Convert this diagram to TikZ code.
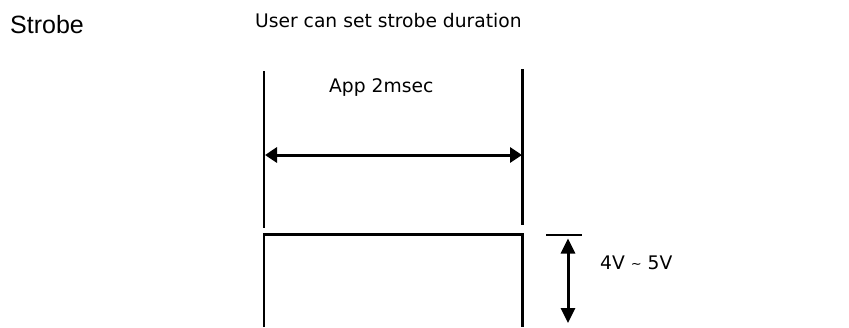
\documentclass[tikz,border=0pt]{standalone}
\usepackage{fontspec}
\setmainfont{DejaVu Sans}
\newfontfamily\titlefont{Liberation Sans}
\usetikzlibrary{arrows.meta}
\tikzset{
  lbl/.style={inner sep=0pt, anchor=base west, font=\fontsize{18.7}{20}\selectfont},
  ttl/.style={inner sep=0pt, anchor=base west, font=\titlefont\fontsize{25}{28}\selectfont},
  edge/.style={line width=2.1pt, black},
  dimarr/.style={line width=3pt, black, {Triangle[length=12pt,width=15pt]}-{Triangle[length=12pt,width=15pt]}},
  varr/.style={line width=3pt, black, {Triangle[length=15pt,width=14pt]}-{Triangle[length=15pt,width=14pt]}}
}
\begin{document}
\begin{tikzpicture}[x=1pt,y=-1pt]
\useasboundingbox (0,0) rectangle (849,327);
% texts
\node[ttl] (title) at (10,33) {Strobe};
\node[lbl] (note) at (255,27) {User can set strobe duration};
\node[lbl] (dur) at (329,92) {App 2msec};
\node[lbl] (volt) at (600,269) {4V \raisebox{1pt}{\fontsize{13}{14}\selectfont\char`~} 5V};
% markers
\coordinate (ltop) at (264,71);
\coordinate (lbot) at (264,228);
\coordinate (rtop) at (522.5,69);
\coordinate (rbot) at (522.5,225);
\draw[edge] (ltop) -- (lbot);
\draw[edge] (rtop) -- (rbot);
% duration arrow
\coordinate (da) at (265,155);
\coordinate (db) at (522,155);
\draw[dimarr] (da) -- (db);
% pulse
\coordinate (p1) at (264,327);
\coordinate (p2) at (264,234.5);
\coordinate (p3) at (522.5,234.5);
\coordinate (p4) at (522.5,327);
\draw[edge] (p1) -- (p2) -- (p3) -- (p4);
% level line and voltage arrow
\coordinate (la) at (546,235);
\coordinate (lb) at (582,235);
\draw[line width=1.8pt] (la) -- (lb);
\coordinate (va) at (568,238.5);
\coordinate (vb) at (568,323);
\draw[varr] (va) -- (vb);
\end{tikzpicture}
\end{document}
